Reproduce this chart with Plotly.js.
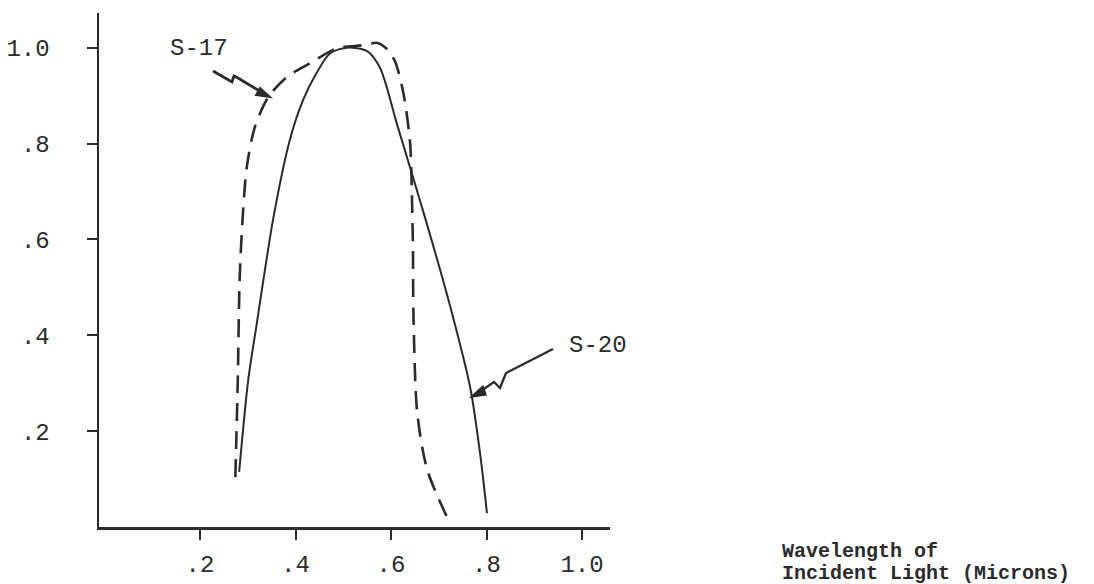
<!DOCTYPE html>
<html>
<head>
<meta charset="utf-8">
<script src="https://cdn.plot.ly/plotly-3.0.1.min.js"></script>
<style>html,body{margin:0;padding:0;background:#fff;}#chart{width:1094px;height:584px;}</style>
</head>
<body>
<div id="chart"></div>
<script>
// S-17 (dashed) response curve, wavelength in microns
var s17_x = [0.274, 0.279, 0.283, 0.289, 0.298, 0.315, 0.343, 0.382, 0.431, 0.487, 0.540, 0.572, 0.594, 0.609, 0.626, 0.640, 0.644, 0.646, 0.647, 0.655, 0.676, 0.720];
var s17_y = [0.104, 0.300, 0.515, 0.640, 0.751, 0.835, 0.897, 0.939, 0.968, 0.999, 1.005, 1.010, 0.995, 0.970, 0.905, 0.801, 0.682, 0.578, 0.446, 0.238, 0.119, 0.015];
// S-20 (solid) response curve
var s20_x = [0.282, 0.301, 0.319, 0.354, 0.388, 0.416, 0.444, 0.472, 0.507, 0.550, 0.577, 0.613, 0.667, 0.720, 0.766, 0.787, 0.801];
var s20_y = [0.115, 0.307, 0.425, 0.647, 0.807, 0.891, 0.947, 0.988, 1.000, 0.993, 0.958, 0.839, 0.660, 0.475, 0.290, 0.150, 0.029];

var xTickVals = [0.2, 0.4, 0.6, 0.8, 1.0];
var xTickText = ['.2', '.4', '.6', '.8', '1.0'];
var yTickVals = [0.2, 0.4, 0.6, 0.8, 1.0];
var yTickText = ['.2', '.4', '.6', '.8', '1.0'];

var labelS17 = 'S-17';
var labelS20 = 'S-20';
var xTitleLines = ['Wavelength of', 'Incident Light (Microns)'];

var ink = '#2b2b2b';
var mono = 'Liberation Mono, Courier New, monospace';

var traces = [
  {x: s17_x, y: s17_y, name: labelS17, mode: 'lines',
   line: {color: ink, width: 2.6, dash: '18px,10px', shape: 'spline', smoothing: 0.8}},
  {x: s20_x, y: s20_y, name: labelS20, mode: 'lines',
   line: {color: ink, width: 2, shape: 'spline', smoothing: 0.8}}
];

// pixel -> data helpers for decorative zigzag arrows
function dx(px){ return (px - 104.5) / 477.5; }
function dy(py){ return (527 - py) / 479.3; }
function path(pts){
  return pts.map(function(p,i){ return (i ? 'L' : 'M') + dx(p[0]) + ',' + dy(p[1]); }).join(' ');
}

var shapes = [
  {type: 'path', xref: 'x', yref: 'y', path: path([[213,71],[232,82],[234,76],[238,78],[258,90]]),
   line: {color: ink, width: 2.8}},
  {type: 'path', xref: 'x', yref: 'y', path: path([[260,88],[270,97],[256,95]]) + ' Z',
   fillcolor: ink, line: {color: ink, width: 2}},
  {type: 'path', xref: 'x', yref: 'y', path: path([[553,349],[506,373],[500,388],[494,382],[478,393]]),
   line: {color: ink, width: 2.3}},
  {type: 'path', xref: 'x', yref: 'y', path: path([[483,386],[471,397],[486,395]]) + ' Z',
   fillcolor: ink, line: {color: ink, width: 1.5}}
];

var layout = {
  width: 1094, height: 584,
  margin: {l: 99, r: 484, t: 13, b: 57, pad: 0},
  paper_bgcolor: '#ffffff', plot_bgcolor: '#ffffff',
  showlegend: false,
  font: {family: mono, color: ink},
  xaxis: {
    range: [dx(99), dx(610)], showgrid: false, zeroline: false,
    showline: true, linecolor: ink, linewidth: 2.5,
    ticks: 'outside', ticklen: 10, tickwidth: 2, tickcolor: ink,
    tickvals: xTickVals, ticktext: xTickText, ticklabelstandoff: 4,
    tickfont: {family: mono, size: 24, color: ink}
  },
  yaxis: {
    range: [0, dy(13)], showgrid: false, zeroline: false,
    showline: true, linecolor: ink, linewidth: 2.5,
    ticks: 'outside', ticklen: 10, tickwidth: 2, tickcolor: ink,
    tickvals: yTickVals, ticktext: yTickText, ticklabelstandoff: 32,
    tickfont: {family: mono, size: 24, color: ink}
  },
  shapes: shapes,
  annotations: [
    {text: labelS17, xref: 'x', yref: 'y', x: dx(199), y: dy(48), showarrow: false,
     font: {family: mono, size: 24, color: ink}},
    {text: labelS20, xref: 'x', yref: 'y', x: dx(598), y: dy(345), showarrow: false,
     font: {family: mono, size: 24, color: ink}},
    {text: '<b>' + xTitleLines[0] + '</b>', xref: 'paper', yref: 'paper',
     x: (781 - 99) / 511, y: (527 - 551) / 514, xanchor: 'left', yanchor: 'middle',
     align: 'left', showarrow: false, borderpad: 0,
     font: {family: mono, size: 20, color: ink}},
    {text: '<b>' + xTitleLines[1] + '</b>', xref: 'paper', yref: 'paper',
     x: (781 - 99) / 511, y: (527 - 573) / 514, xanchor: 'left', yanchor: 'middle',
     align: 'left', showarrow: false, borderpad: 0,
     font: {family: mono, size: 20, color: ink}}
  ]
};

Plotly.newPlot('chart', traces, layout, {displayModeBar: false, staticPlot: true});
</script>
</body>
</html>
